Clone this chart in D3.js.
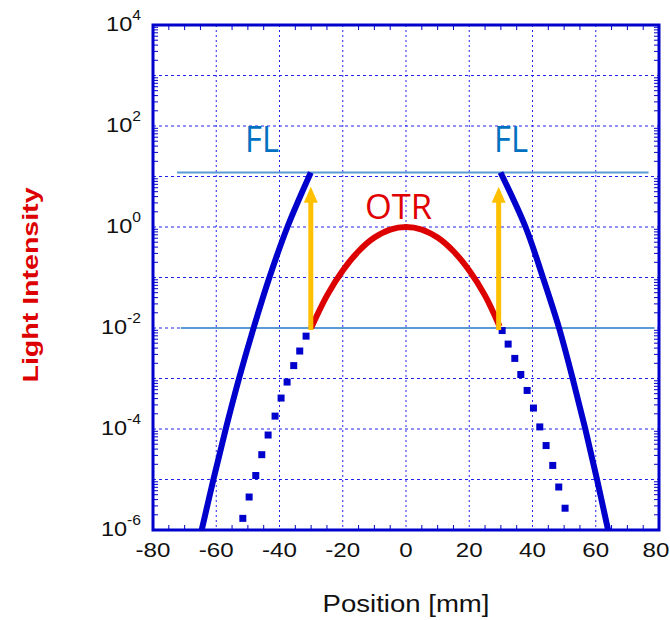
<!DOCTYPE html>
<html><head><meta charset="utf-8">
<script src="https://cdn.jsdelivr.net/npm/d3@7/dist/d3.min.js"></script>
<style>body{margin:0;background:#fff}svg{display:block}</style>
</head><body>
<svg id="c" width="670" height="620"></svg>
<script>
// ---- data ----
const xTicks = [-80, -60, -40, -20, 0, 20, 40, 60, 80];
const yExponents = [-6, -4, -2, 0, 2, 4];
const flLeftX = [-64.6, -60.9, -57.0, -52.8, -48.2, -43.2, -37.5, -30.1];
const flLeftY = [1e-6, 1e-5, 1e-4, 1e-3, 1e-2, 1e-1, 1, 12];
const flRightX = [29.9, 37.8, 43.3, 48.4, 52.7, 56.7, 60.4, 63.9];
const flRightY = [12, 1, 1e-1, 1e-2, 1e-3, 1e-4, 1e-5, 1e-6];
const otrX = [-30, -25, -20, -15, -10, -5, 0, 5, 10, 15, 20, 25, 29.6];
const otrY = [0.01, 0.0437, 0.138, 0.331, 0.617, 0.891, 1, 0.891, 0.617, 0.331, 0.138, 0.0437, 0.0107];
const dotLeftX = [-31.6, -33.6, -35.5, -37.6, -39.5, -41.4, -43.6, -45.6, -47.5, -49.6, -51.6];
const dotLeftY = [6.9e-3, 3.5e-3, 1.8e-3, 8.5e-4, 4.1e-4, 1.8e-4, 7.6e-5, 3.1e-5, 1.2e-5, 4.5e-6, 1.7e-6];
const dotRightX = [30.4, 32.3, 34.4, 36.3, 38.3, 40.3, 42.3, 44.3, 46.4, 48.3, 50.3];
const dotRightY = [8.9e-3, 4.8e-3, 2.5e-3, 1.2e-3, 5.8e-4, 2.6e-4, 1.1e-4, 4.7e-5, 1.9e-5, 7.1e-6, 2.7e-6];
const flLevel = 12, otrLevel = 0.01;
const upperLineX = [-72.4, 76.7];
const lowerLineX = [-71.2, 78.6];
const arrowX = [-30.1, 29.3];
const arrowFrom = 0.0091, arrowTo = 6.3;

// ---- layout ----
const L = 153, R = 659, T = 25, B = 530;
const x = d3.scaleLinear().domain([-80, 80]).range([L, R]);
const y = d3.scaleLog().domain([1e-6, 1e4]).range([B, T]);
const svg = d3.select("#c");
const BLUE = "#0000cc";
const GRID = "#2222ee";
const font = "'Liberation Sans', Arial, sans-serif";

svg.append("defs").append("clipPath").attr("id", "clip")
  .append("rect").attr("x", L).attr("y", T).attr("width", R - L).attr("height", B - T);

// grid
const g = svg.append("g");
xTicks.filter(v => v > -80 && v < 80).forEach(v => {
  g.append("line").attr("x1", x(v)).attr("x2", x(v)).attr("y1", T).attr("y2", B)
    .attr("stroke", GRID).attr("stroke-width", 1).attr("stroke-dasharray", "2,3");
});
for (let e = -5; e <= 3; e++) {
  g.append("line").attr("x1", L).attr("x2", R).attr("y1", y(Math.pow(10, e))).attr("y2", y(Math.pow(10, e)))
    .attr("stroke", GRID).attr("stroke-width", 1).attr("stroke-dasharray", "3,3");
}
// minor ticks
for (let v = -75; v < 80; v += 5) {
  if (v % 20 === 0) continue;
  [[B, B - 5], [T, T + 5]].forEach(([a, b]) => {
    g.append("line").attr("x1", x(v)).attr("x2", x(v)).attr("y1", a).attr("y2", b)
      .attr("stroke", BLUE).attr("stroke-width", 1);
  });
}
for (let e = -6; e < 4; e++) {
  for (let k = 2; k <= 9; k++) {
    const yy = y(k * Math.pow(10, e));
    [[L, L + 5], [R, R - 5]].forEach(([a, b]) => {
      g.append("line").attr("x1", a).attr("x2", b).attr("y1", yy).attr("y2", yy)
        .attr("stroke", BLUE).attr("stroke-width", 1);
    });
  }
}

// horizontal level lines
svg.append("line").attr("x1", x(upperLineX[0])).attr("x2", x(upperLineX[1]))
  .attr("y1", y(flLevel)).attr("y2", y(flLevel)).attr("stroke", "#5b9bd5").attr("stroke-width", 2);
svg.append("line").attr("x1", x(lowerLineX[0])).attr("x2", x(lowerLineX[1]))
  .attr("y1", y(otrLevel)).attr("y2", y(otrLevel)).attr("stroke", "#5b9bd5").attr("stroke-width", 2);

const plot = svg.append("g").attr("clip-path", "url(#clip)");
// dotted squares
const sq = 7;
dotLeftX.map((v, i) => [v, dotLeftY[i]]).concat(dotRightX.map((v, i) => [v, dotRightY[i]]))
  .forEach(([a, b]) => {
    plot.append("rect").attr("x", x(a) - sq / 2).attr("y", y(b) - sq / 2)
      .attr("width", sq).attr("height", sq).attr("fill", BLUE);
  });

const line = d3.line().x(d => x(d[0])).y(d => y(d[1])).curve(d3.curveCatmullRom.alpha(0.5));
plot.append("path").attr("d", line(flLeftX.map((v, i) => [v, flLeftY[i]])))
  .attr("fill", "none").attr("stroke", BLUE).attr("stroke-width", 6);
plot.append("path").attr("d", line(flRightX.map((v, i) => [v, flRightY[i]])))
  .attr("fill", "none").attr("stroke", BLUE).attr("stroke-width", 6);
plot.append("path").attr("d", line(otrX.map((v, i) => [v, otrY[i]])))
  .attr("fill", "none").attr("stroke", "#dd0000").attr("stroke-width", 6);

// arrows
arrowX.forEach(ax => {
  const px = x(ax), y0 = y(arrowFrom), y1 = y(arrowTo);
  svg.append("line").attr("x1", px).attr("x2", px).attr("y1", y0).attr("y2", y1 + 14)
    .attr("stroke", "#ffc000").attr("stroke-width", 5);
  svg.append("path").attr("d", `M${px},${y1} L${px - 7},${y1 + 16} L${px + 7},${y1 + 16} Z`)
    .attr("fill", "#ffc000");
});

// frame
svg.append("rect").attr("x", L).attr("y", T).attr("width", R - L).attr("height", B - T)
  .attr("fill", "none").attr("stroke", BLUE).attr("stroke-width", 3);

// x tick labels
xTicks.forEach(v => {
  svg.append("text").attr("transform", `translate(${Math.min(x(v), 656)},557) scale(1.15,1)`)
    .attr("text-anchor", "middle").attr("font-family", font).attr("font-size", 21)
    .attr("fill", "#111").text(v);
});
// y tick labels
yExponents.forEach(e => {
  const t = svg.append("text").attr("transform", `translate(141,${y(Math.pow(10, e)) + 6}) scale(1.12,1)`)
    .attr("text-anchor", "end").attr("font-family", font).attr("font-size", 21).attr("fill", "#111");
  t.append("tspan").text("10");
  t.append("tspan").attr("dy", -11).attr("font-size", 14).text(e);
});

// axis titles
svg.append("text").attr("x", 406).attr("y", 612).attr("text-anchor", "middle")
  .attr("font-family", font).attr("font-size", 23).attr("fill", "#111")
  .attr("textLength", 167).attr("lengthAdjust", "spacingAndGlyphs").text("Position [mm]");
svg.append("text").attr("transform", "translate(38,285) rotate(-90)").attr("text-anchor", "middle")
  .attr("font-family", font).attr("font-size", 22).attr("font-weight", "bold").attr("fill", "#dd0000")
  .attr("textLength", 195).attr("lengthAdjust", "spacingAndGlyphs").text("Light Intensity");

// annotations
const annFont = "'Open Sans', 'Noto Sans', sans-serif";
[[245, "FL"], [494, "FL"]].forEach(([px, s]) => {
  svg.append("text").attr("x", px).attr("y", 152).attr("font-family", annFont).attr("font-size", 36)
    .attr("fill", "#0070c0").attr("textLength", 34).attr("lengthAdjust", "spacingAndGlyphs").text(s);
});
svg.append("text").attr("x", 365).attr("y", 219).attr("font-family", annFont).attr("font-size", 34)
  .attr("fill", "#e00000").attr("textLength", 67).attr("lengthAdjust", "spacingAndGlyphs").text("OTR");
</script>
</body></html>
